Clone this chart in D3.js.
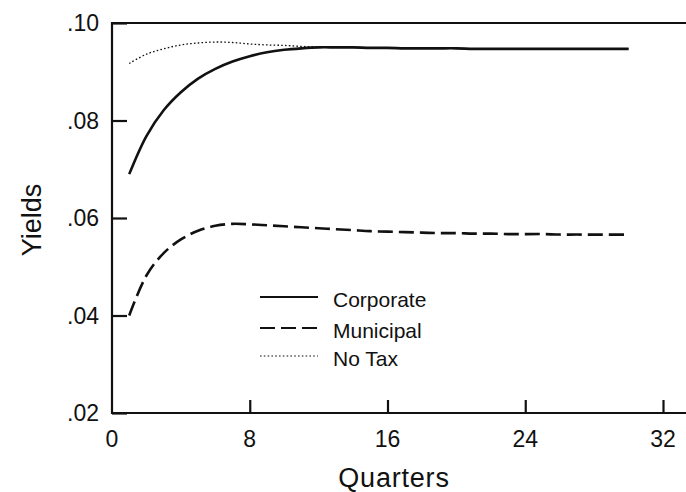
<!DOCTYPE html>
<html>
<head>
<meta charset="utf-8">
<script src="https://cdn.jsdelivr.net/npm/d3@7"></script>
<style>
  html, body { margin: 0; padding: 0; background: #fff; }
  svg { display: block; }
  text { font-family: "Liberation Sans", Arial, sans-serif; fill: #111; }
</style>
</head>
<body>
<svg id="chart" width="686" height="492"></svg>
<script>
// Quarter index for each observation
const quarters = [1,2,3,4,5,6,7,8,9,10,11,12,13,14,15,16,17,18,19,20,21,22,23,24,25,26,27,28,29,30];

// Yield paths by tax treatment
const corporate = [0.0690,0.0768,0.0821,0.0858,0.0886,0.0906,0.0921,0.0932,0.0940,0.0945,
                   0.0948,0.0950,0.0950,0.0950,0.0949,0.0949,0.0948,0.0948,0.0948,0.0948,
                   0.0947,0.0947,0.0947,0.0947,0.0947,0.0947,0.0947,0.0947,0.0947,0.0947];
const municipal = [0.0400,0.0482,0.0528,0.0556,0.0574,0.0584,0.0588,0.0587,0.0585,0.0583,
                   0.0581,0.0579,0.0577,0.0575,0.0573,0.0572,0.0571,0.0570,0.0569,0.0569,
                   0.0568,0.0568,0.0567,0.0567,0.0567,0.0566,0.0566,0.0566,0.0566,0.0566];
const noTax     = [0.0917,0.0936,0.0947,0.0955,0.0959,0.0961,0.0960,0.0957,0.0955,0.0954,
                   0.0952,0.0951,0.0950,0.0950,0.0949,0.0949,0.0948,0.0948,0.0948,0.0948,
                   0.0947,0.0947,0.0947,0.0947,0.0947,0.0947,0.0947,0.0947,0.0947,0.0947];

const seriesNames = ["Corporate", "Municipal", "No Tax"];
const xTicks = [0, 8, 16, 24, 32];
const yTicks = [0.02, 0.04, 0.06, 0.08, 0.10];
const yTickLabels = [".02", ".04", ".06", ".08", ".10"];

const svg = d3.select("#chart");
const W = 686;
const plotLeft = 112, plotTop = 23, plotBottom = 413;

const x = d3.scaleLinear().domain([0, 32]).range([plotLeft, 663]);
const y = d3.scaleLinear().domain([0.02, 0.10]).range([plotBottom, plotTop]);

// Frame: left, top and bottom rules running off the right edge
const frame = svg.append("g").attr("stroke", "#111").attr("stroke-width", 2.2).attr("fill", "none");
frame.append("line").attr("x1", plotLeft).attr("x2", plotLeft).attr("y1", plotTop - 1).attr("y2", plotBottom + 1);
frame.append("line").attr("x1", plotLeft - 1).attr("x2", W).attr("y1", plotTop).attr("y2", plotTop);
frame.append("line").attr("x1", plotLeft - 1).attr("x2", W).attr("y1", plotBottom).attr("y2", plotBottom);

// Y axis: inward ticks, labels to the left
const yAxis = d3.axisRight(y)
  .tickValues(yTicks)
  .tickSize(15)
  .tickFormat("");
const yg = svg.append("g").attr("transform", `translate(${plotLeft},0)`).call(yAxis);
yg.select(".domain").remove();
yg.selectAll(".tick line").attr("stroke", "#111").attr("stroke-width", 2.2);

svg.append("g").selectAll("text")
  .data(yTicks)
  .join("text")
  .attr("x", 99)
  .attr("y", d => y(d))
  .attr("dy", "0.36em")
  .attr("text-anchor", "end")
  .attr("font-size", 23)
  .text((d, i) => yTickLabels[i]);

// X axis: inward ticks, labels below
const xAxis = d3.axisTop(x)
  .tickValues(xTicks.filter(d => d > 0))
  .tickSize(13)
  .tickFormat("");
const xg = svg.append("g").attr("transform", `translate(0,${plotBottom})`).call(xAxis);
xg.select(".domain").remove();
xg.selectAll(".tick line").attr("stroke", "#111").attr("stroke-width", 2.2);

svg.append("g").selectAll("text")
  .data(xTicks)
  .join("text")
  .attr("x", d => x(d))
  .attr("y", 447)
  .attr("text-anchor", "middle")
  .attr("font-size", 23)
  .text(d => d);

// Axis titles
svg.append("text")
  .attr("x", 394).attr("y", 487)
  .attr("text-anchor", "middle")
  .attr("font-size", 27)
  .attr("letter-spacing", 0.8)
  .text("Quarters");

svg.append("text")
  .attr("transform", "translate(41,220) rotate(-90)")
  .attr("text-anchor", "middle")
  .attr("font-size", 27)
  .text("Yields");

// Series lines
const styles = [
  { data: corporate, width: 2.6, dash: null },
  { data: municipal, width: 2.6, dash: "15,6" },
  { data: noTax,     width: 1.3, dash: "1.6,2.2" }
];

const line = d3.line()
  .x((d, i) => x(quarters[i]))
  .y(d => y(d))
  .curve(d3.curveCatmullRom.alpha(0.5));

const lines = svg.append("g").attr("fill", "none").attr("stroke", "#111");
styles.forEach(s => {
  lines.append("path")
    .attr("d", line(s.data))
    .attr("stroke-width", s.width)
    .attr("stroke-dasharray", s.dash);
});

// Legend
const legendY = [297, 328, 356];
const lg = svg.append("g");
seriesNames.forEach((name, i) => {
  lg.append("line")
    .attr("x1", 260).attr("x2", 318)
    .attr("y1", legendY[i]).attr("y2", legendY[i])
    .attr("stroke", "#111")
    .attr("stroke-width", styles[i].width * 0.8)
    .attr("stroke-dasharray", styles[i].dash);
  lg.append("text")
    .attr("x", 333).attr("y", legendY[i] + 3)
    .attr("dy", "0.35em")
    .attr("font-size", 21)
    .text(name);
});
</script>
</body>
</html>
